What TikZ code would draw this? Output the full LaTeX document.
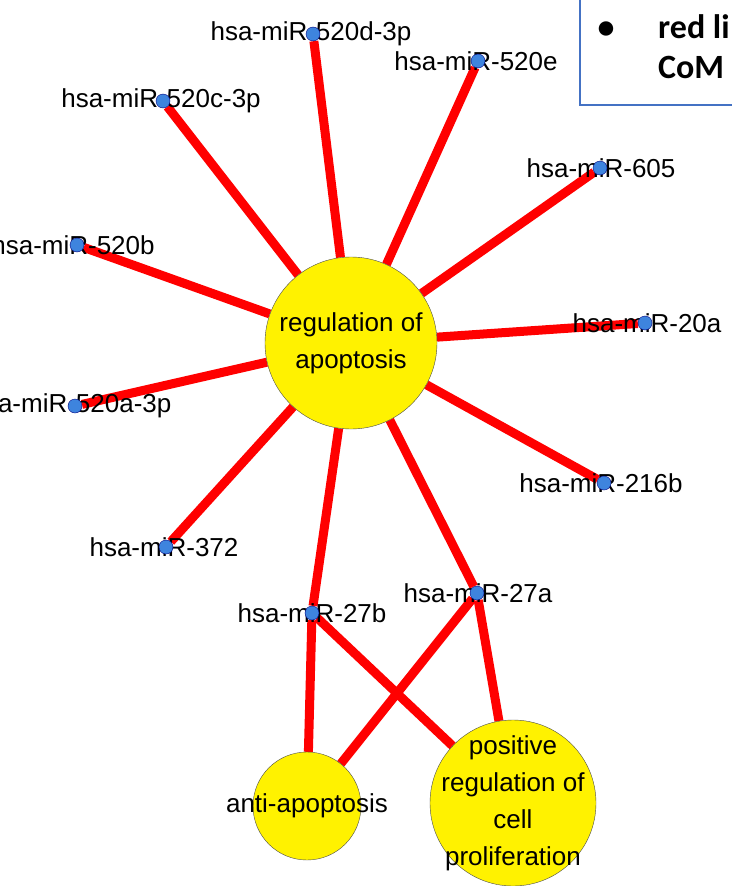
\documentclass[tikz,border=0pt]{standalone}
\usepackage{fontspec}
\setmainfont{Liberation Sans}
\newfontfamily\notefont{Carlito}
\usetikzlibrary{backgrounds}

\definecolor{mirblue}{RGB}{62,132,222}
\definecolor{noteblue}{RGB}{68,114,196}

\begin{document}
\begin{tikzpicture}[x = 1pt, y = -1pt,
        every node/.style = {font = \fontsize{26}{37}\selectfont},
        term/.style = {circle, draw = black!70, fill = yellow, inner sep = 0pt},
        mir/.style = {circle, draw = blue!50!black, fill = mirblue, minimum size = 14pt, inner sep = 0pt},
        link/.style = {red, line width = 9pt}]

        \useasboundingbox (0, 0) rectangle (731, 886);

        % the three GO terms
        \node[term, minimum size = 172pt, label = {[align = center]center:regulation of\\apoptosis}] (apo) at (351, 343) {};
        \node[term, minimum size = 108pt, label = {center:anti-apoptosis}] (anti) at (307, 806) {};
        \node[term, minimum size = 166pt, label = {[align = center]center:positive\\regulation of\\cell\\proliferation}] (prolif) at (513, 803) {};

        % miRNAs: text first (at \tx), dot on top of it
        \foreach \name/\x/\y/\tx/\txt in {
                m520d/313/34/311/hsa-miR-520d-3p,
                m520e/478/61/476/hsa-miR-520e,
                m520c/163/101/161/hsa-miR-520c-3p,
                m605/600/168/601/hsa-miR-605,
                m520b/77/245/73/hsa-miR-520b,
                m20a/645/323/647/hsa-miR-20a,
                m520a/75/406/71/hsa-miR-520a-3p,
                m216b/604/483/601/hsa-miR-216b,
                m372/166/547/164/hsa-miR-372,
                m27a/477/593/478/hsa-miR-27a,
                m27b/312/613/312/hsa-miR-27b}{
                \node at (\tx, \y) {\txt};
                \node[mir] (\name) at (\x, \y) {};
            }

        \begin{scope}[on background layer]
            \foreach \name in {m520d, m520e, m520c, m605, m520b, m20a, m520a, m216b, m372, m27a, m27b}{
                    \draw[link] (apo) -- (\name);
                }
            \draw[link] (m27b) -- (anti);
            \draw[link] (m27b) -- (prolif);
            \draw[link] (m27a) -- (anti);
            \draw[link] (m27a) -- (prolif);
        \end{scope}

        % note box in the corner
        \draw[noteblue, line width = 1.5pt, fill = white] (580, -5) rectangle (745, 105);
        \node[font = \notefont\bfseries\fontsize{34}{40}\selectfont, anchor = base] (dot) at (606, 38) {•};
        \node[font = \notefont\bfseries\fontsize{34}{40}\selectfont, anchor = base west, inner sep = 0pt] (line1) at (658, 38) {red li};
        \node[font = \notefont\bfseries\fontsize{34}{40}\selectfont, anchor = base west, inner sep = 0pt] (line2) at (658, 78) {CoM};

    \end{tikzpicture}
\end{document}
